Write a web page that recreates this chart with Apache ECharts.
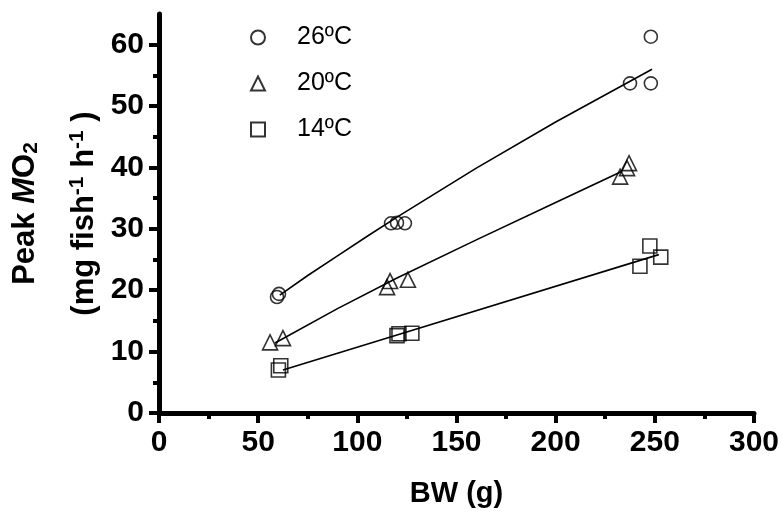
<!DOCTYPE html>
<html>
<head>
<meta charset="utf-8">
<script src="https://cdn.jsdelivr.net/npm/echarts@6/dist/echarts.min.js"></script>
<style>html,body{margin:0;padding:0;background:#fff;}#c{width:782px;height:513px;}</style>
</head>
<body>
<div id="c"></div>
<script>
// Series names
const seriesNames = ['26ºC', '20ºC', '14ºC'];
// Measured points [BW (g), Peak MO2]
const pts26 = [[59.5,18.9],[60.5,19.4],[117,30.9],[120,31.0],[124,30.9],[237.5,53.7],[248,53.7],[248,61.3]];
const pts20 = [[56,11.5],[62.5,12.2],[115,20.5],[116.5,21.5],[125.5,21.7],[232.5,38.5],[236,39.9],[237,40.7]];
const pts14 = [[60.2,7.0],[61.4,7.7],[120,12.6],[121,12.9],[127.5,13.0],[242.5,23.9],[247.5,27.2],[253,25.4]];
// Fitted curves at several x positions
const fit26 = [[60.9,19.2],[75,22.4],[90,25.6],[105,28.8],[120,31.9],[160,39.9],[200,47.4],[248.6,56.0]];
const fit20 = [[58.5,11.4],[90,17.0],[120,22.0],[160,28.2],[200,34.3],[233,39.3]];
const fit14 = [[62.5,7.0],[120,12.7],[252,25.8]];
// Tick values
const xTicks = [0,50,100,150,200,250,300];
const xMinor = [25,75,125,175,225,275];
const yTicks = [0,10,20,30,40,50,60];
const yMinor = [5,15,25,35,45,55];

const chart = echarts.init(document.getElementById('c'));
const F = 'Liberation Sans, Arial, sans-serif';
const symStyle = {color: 'rgba(0,0,0,0)', borderColor: '#000', borderWidth: 1.6};
const axisLine = {show: true, lineStyle: {color: '#000', width: 5}};
const TS = 30;
const NS = 31;

function scatter(name, data, symbol, size) {
  return {name, type: 'scatter', data, symbol, symbolSize: size, itemStyle: symStyle, z: 3};
}
function fit(data) {
  return {type: 'line', data, smooth: false, showSymbol: false, symbol: 'none', silent: true,
    lineStyle: {color: '#000', width: 1.6, join: 'round'}, z: 2};
}
const richT = {
  b: {fontFamily: F, fontSize: NS, fontWeight: 'bold', color: '#000', lineHeight: 34},
  i: {fontFamily: F, fontSize: NS, fontWeight: 'bold', fontStyle: 'italic', color: '#000', lineHeight: 34},
  sub: {fontFamily: F, fontSize: 21, fontWeight: 'bold', color: '#000', lineHeight: 18, verticalAlign: 'bottom'},
  sup: {fontFamily: F, fontSize: 21, fontWeight: 'bold', color: '#000', lineHeight: 18, verticalAlign: 'top'}
};

chart.setOption({
  animation: false,
  backgroundColor: '#fff',
  textStyle: {fontFamily: F},
  grid: {left: 156, right: 24, top: 14, bottom: 100},
  legend: {
    orient: 'vertical', left: 245, top: 20, itemGap: 21,
    itemWidth: 14, itemHeight: 14,
    textStyle: {fontFamily: F, fontSize: 25, color: '#000', padding: [0, 0, 0, 27]},
    data: seriesNames
  },
  xAxis: [{
    type: 'value', min: 0, max: 300, interval: 50,
    axisLine,
    axisTick: {show: true, customValues: xTicks, length: 10, lineStyle: {color: '#000', width: 4}},
    axisLabel: {customValues: xTicks, margin: 15, fontFamily: F, fontSize: TS, fontWeight: 'bold', color: '#000'},
    splitLine: {show: false},
    name: 'BW (g)', nameLocation: 'middle', nameGap: 66,
    nameTextStyle: {fontFamily: F, fontSize: 29, fontWeight: 'bold', color: '#000'}
  }, {
    type: 'value', min: 0, max: 300, position: 'bottom',
    axisLine: {show: false},
    axisTick: {show: true, customValues: xMinor, length: 6, lineStyle: {color: '#000', width: 4}},
    axisLabel: {show: false}, splitLine: {show: false}
  }],
  yAxis: [{
    type: 'value', min: 0, max: 65, interval: 10,
    axisLine,
    axisTick: {show: true, customValues: yTicks, length: 10, lineStyle: {color: '#000', width: 4}},
    axisLabel: {customValues: yTicks, margin: 15, fontFamily: F, fontSize: TS, fontWeight: 'bold', color: '#000'},
    splitLine: {show: false},
    name: '{b|Peak }{i|M}{b|O}{sub|2}',
    nameLocation: 'middle', nameRotate: 90, nameGap: 117,
    nameTextStyle: {fontFamily: F, fontSize: NS, fontWeight: 'bold', color: '#000', lineHeight: 34, rich: richT}
  }, {
    type: 'value', min: 0, max: 65, position: 'left',
    axisLine: {show: false},
    axisTick: {show: true, customValues: yMinor, length: 6, lineStyle: {color: '#000', width: 4}},
    axisLabel: {show: false}, splitLine: {show: false},
    name: '{b|(mg fish}{sup|-1}{b| h}{sup|-1}{b| )}',
    nameLocation: 'middle', nameRotate: 90, nameGap: 58,
    nameTextStyle: {fontFamily: F, fontSize: NS, fontWeight: 'bold', color: '#000', lineHeight: 34, rich: richT}
  }],
  series: [
    scatter(seriesNames[0], pts26, 'circle', 13),
    scatter(seriesNames[1], pts20, 'triangle', 15),
    scatter(seriesNames[2], pts14, 'rect', 14),
    fit(fit26), fit(fit20), fit(fit14)
  ]
});
</script>
</body>
</html>
